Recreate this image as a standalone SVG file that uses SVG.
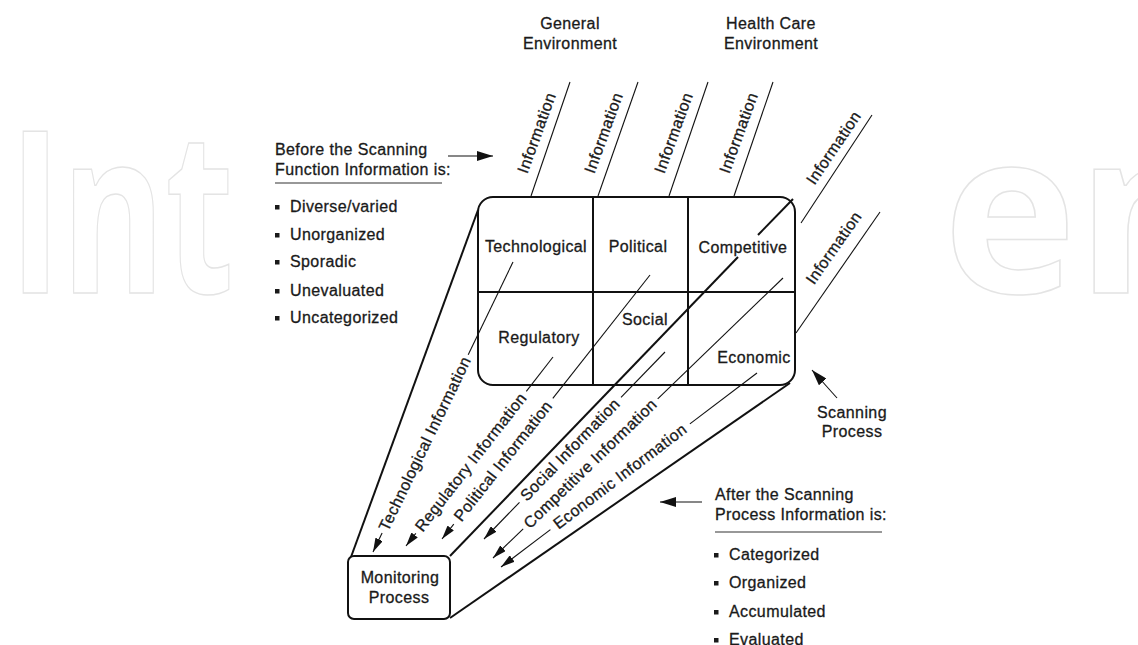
<svg xmlns="http://www.w3.org/2000/svg" width="1138" height="645" viewBox="0 0 1138 645">
<defs>
<style>
.t{font-family:"Liberation Sans",Arial,Helvetica,sans-serif;font-size:16px;fill:#1a1a1a;stroke:#1a1a1a;stroke-width:0.3px;letter-spacing:0.4px}
.m{text-anchor:middle}
.thin{stroke:#111;stroke-width:1.1;fill:none}
.thick{stroke:#111;stroke-width:2;fill:none}
.box{stroke:#111;stroke-width:2;fill:#fff}
.wm{font-family:"Open Sans","Noto Sans",sans-serif;font-size:226px;font-weight:700;fill:none;stroke:#e4e4e4;stroke-width:1.5}
</style>
<marker id="ah" viewBox="0 0 14 8" refX="14" refY="4" markerWidth="14" markerHeight="8" orient="auto" markerUnits="userSpaceOnUse"><path d="M0,0 L14,4 L0,8 z" fill="#111"/></marker>
<marker id="ah2" viewBox="0 0 16 10" refX="16" refY="5" markerWidth="16" markerHeight="10" orient="auto" markerUnits="userSpaceOnUse"><path d="M0,0 L16,5 L0,10 z" fill="#111"/></marker>
</defs>
<rect x="0" y="0" width="1138" height="645" fill="#fff"/>
<g id="watermark">
<text class="wm" transform="translate(9,293) scale(0.7,1)" x="0" y="0">Int</text>
<text class="wm" x="943" y="293">en</text>
<rect x="246" y="0" width="692" height="645" fill="#fff"/>
</g>

<g id="env-labels">
<text class="t m" x="570" y="29">General</text>
<text class="t m" x="570" y="49">Environment</text>
<text class="t m" x="771" y="29">Health Care</text>
<text class="t m" x="771" y="49">Environment</text>
</g>

<g id="connectors">
<line class="thin" x1="570" y1="82" x2="531" y2="196"/>
<line class="thin" x1="638" y1="82" x2="598" y2="196"/>
<line class="thin" x1="708" y1="82" x2="669" y2="196"/>
<line class="thin" x1="773" y1="82" x2="734" y2="196"/>
<line class="thin" x1="872" y1="115" x2="801" y2="223"/>
<line class="thin" x1="880" y1="212" x2="796" y2="333"/>
<line class="thick" x1="478" y1="210" x2="351" y2="557"/>
<line class="thick" x1="793" y1="199" x2="758" y2="235"/>
<line class="thick" x1="738" y1="257" x2="450" y2="556"/>
<line class="thick" x1="790" y1="383" x2="450" y2="618"/>
<line class="thin" x1="513" y1="262" x2="468.2" y2="354.8"/>
<line class="thin" x1="382.1" y1="533.1" x2="373" y2="552" marker-end="url(#ah)"/>
<line class="thin" x1="553" y1="357" x2="526.3" y2="391.3"/>
<line class="thin" x1="415.8" y1="533.4" x2="406" y2="546" marker-end="url(#ah)"/>
<line class="thin" x1="650" y1="275" x2="552.8" y2="398.4"/>
<line class="thin" x1="453.8" y1="524.1" x2="442" y2="539" marker-end="url(#ah)"/>
<line class="thin" x1="665" y1="352" x2="621" y2="397.4"/>
<line class="thin" x1="519.5" y1="502.3" x2="484" y2="539" marker-end="url(#ah)"/>
<line class="thin" x1="783" y1="278" x2="657.7" y2="398.9"/>
<line class="thin" x1="523.2" y1="528.8" x2="493" y2="558" marker-end="url(#ah)"/>
<line class="thin" x1="757" y1="373" x2="689.9" y2="423.9"/>
<line class="thin" x1="550.4" y1="529.6" x2="501" y2="567" marker-end="url(#ah)"/>
<line class="thin" x1="448" y1="156" x2="493" y2="156" stroke-width="1.6" marker-end="url(#ah2)"/>
<line class="thin" x1="837" y1="398" x2="812" y2="370" stroke-width="1.6" marker-end="url(#ah2)"/>
<line class="thin" x1="702" y1="502" x2="660" y2="502" stroke-width="1.6" marker-end="url(#ah2)"/>
</g>

<g id="info-labels">
<text class="t m" transform="translate(537,133) rotate(-70)" y="5">Information</text>
<text class="t m" transform="translate(604,133) rotate(-70)" y="5">Information</text>
<text class="t m" transform="translate(674,133) rotate(-70)" y="5">Information</text>
<text class="t m" transform="translate(739,133) rotate(-70)" y="5">Information</text>
<text class="t m" transform="translate(834,148) rotate(-56)" y="5">Information</text>
<text class="t m" transform="translate(834,248) rotate(-55)" y="5">Information</text>
<text class="t m" transform="translate(425.2,443.9) rotate(-64.2)" y="5">Technological  Information</text>
<text class="t m" transform="translate(471.1,462.3) rotate(-52.1)" y="5">Regulatory Information</text>
<text class="t m" transform="translate(503.3,461.2) rotate(-51.8)" y="5">Political Information</text>
<text class="t m" transform="translate(570.3,449.9) rotate(-46)" y="5">Social Information</text>
<text class="t m" transform="translate(590.5,463.9) rotate(-44)" y="5">Competitive Information</text>
<text class="t m" transform="translate(620.2,476.7) rotate(-37.2)" y="5">Economic Information</text>
</g>

<g id="scanning-grid">
<rect class="thick" x="478" y="197" width="317" height="188" rx="15"/>
<line class="thick" x1="593" y1="197" x2="593" y2="385"/>
<line class="thick" x1="688" y1="197" x2="688" y2="385"/>
<line class="thick" x1="478" y1="292" x2="795" y2="292"/>
<text class="t m" x="536" y="252">Technological</text>
<text class="t m" x="638" y="252">Political</text>
<text class="t m" x="743" y="253">Competitive</text>
<text class="t m" x="539" y="343">Regulatory</text>
<text class="t m" x="645" y="325">Social</text>
<text class="t m" x="754" y="363">Economic</text>
</g>

<g id="monitoring">
<rect class="box" x="348" y="556" width="102" height="63" rx="6"/>
<text class="t m" x="400" y="583">Monitoring</text>
<text class="t m" x="399" y="603">Process</text>
</g>

<g id="scanning-label">
<text class="t m" x="852" y="418">Scanning</text>
<text class="t m" x="852" y="437">Process</text>
</g>

<g id="before-list">
<text class="t" x="275" y="155">Before the Scanning</text>
<text class="t" x="275" y="175">Function Information is:</text>
<line x1="275" y1="183" x2="442" y2="183" stroke="#333" stroke-width="1.2"/>
<rect x="275" y="205" width="4.5" height="4.5" fill="#1a1a1a"/><text class="t" x="290" y="212">Diverse/varied</text>
<rect x="275" y="233" width="4.5" height="4.5" fill="#1a1a1a"/><text class="t" x="290" y="240">Unorganized</text>
<rect x="275" y="260" width="4.5" height="4.5" fill="#1a1a1a"/><text class="t" x="290" y="267">Sporadic</text>
<rect x="275" y="289" width="4.5" height="4.5" fill="#1a1a1a"/><text class="t" x="290" y="296">Unevaluated</text>
<rect x="275" y="316" width="4.5" height="4.5" fill="#1a1a1a"/><text class="t" x="290" y="323">Uncategorized</text>
</g>

<g id="after-list">
<text class="t" x="715" y="500">After the Scanning</text>
<text class="t" x="715" y="520">Process Information is:</text>
<line x1="715" y1="532" x2="882" y2="532" stroke="#333" stroke-width="1.2"/>
<rect x="714" y="553" width="4.5" height="4.5" fill="#1a1a1a"/><text class="t" x="729" y="560">Categorized</text>
<rect x="714" y="581" width="4.5" height="4.5" fill="#1a1a1a"/><text class="t" x="729" y="588">Organized</text>
<rect x="714" y="610" width="4.5" height="4.5" fill="#1a1a1a"/><text class="t" x="729" y="617">Accumulated</text>
<rect x="714" y="638" width="4.5" height="4.5" fill="#1a1a1a"/><text class="t" x="729" y="645">Evaluated</text>
</g>
</svg>
